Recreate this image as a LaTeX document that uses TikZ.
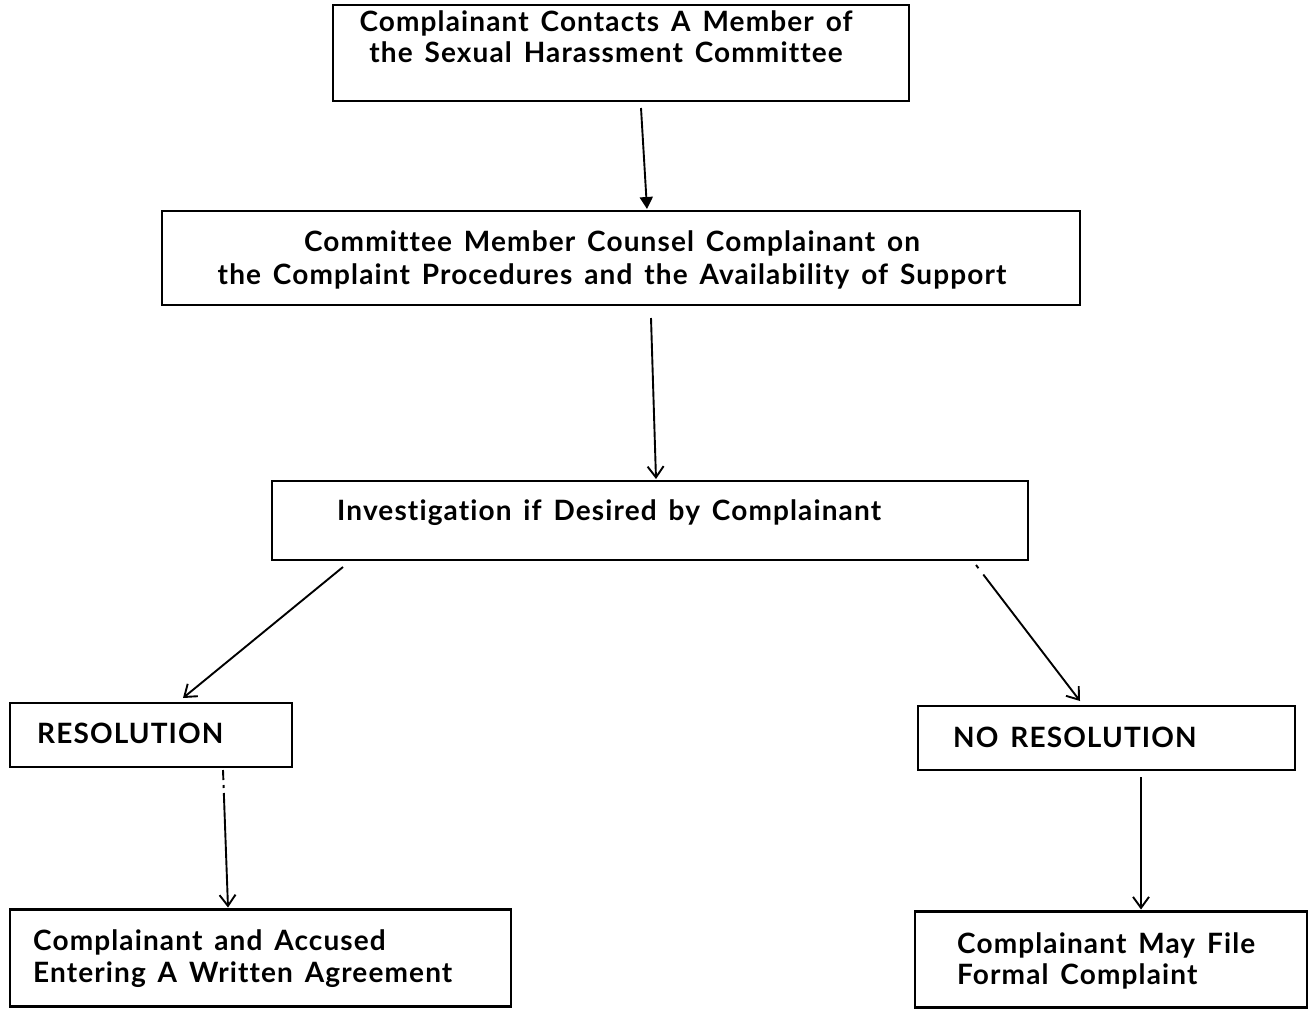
\documentclass[tikz,border=0pt]{standalone}
\usepackage{fontspec}
\setmainfont{Lato}[LetterSpace=4, WordSpace=1.5, Ligatures={NoCommon,NoRare}]
\usetikzlibrary{arrows.meta,calc}
\begin{document}
\begin{tikzpicture}[x=1pt,y=-1pt,
  box/.style={draw, line width=2.2pt, inner sep=0pt, outer sep=0pt, rectangle},
  txt/.style={inner sep=0pt, font=\fontsize{28}{31}\selectfont\bfseries},
  arr/.style={line width=1.9pt, -{Straight Barb[length=11pt,width=16pt,line width=1.9pt]}},
  arrf/.style={line width=1.9pt, -{Triangle[length=12pt,width=13pt]}}]
\useasboundingbox (0,0) rectangle (1311,1010);
\fill[white] (0,0) rectangle (1311,1010);
% boxes
\node[box, minimum width=576pt, minimum height=96pt] (b1) at (621,53) {};
\node[box, minimum width=918pt, minimum height=94pt] (b2) at (621,258) {};
\node[box, minimum width=756pt, minimum height=79pt] (b3) at (650,520.5) {};
\node[box, minimum width=282pt, minimum height=64pt] (b4) at (151,735) {};
\node[box, minimum width=377pt, minimum height=64pt] (b5) at (1106.5,738) {};
\node[box, minimum width=501pt, minimum height=97pt] (b6) at (260.5,958) {};
\node[box, minimum width=392pt, minimum height=96pt] (b7) at (1111,959.5) {};
% texts
\node[txt, align=center] (t1) at (606,37) {Complainant Contacts A Member of\\the Sexual Harassment Committee};
\node[txt, align=center, font=\fontsize{28}{33}\selectfont\bfseries] (t2) at (612,259.5) {Committee Member Counsel Complainant on\\the Complaint Procedures and the Availability of Support};
\node[txt, anchor=west] (t3) at (337,513) {Investigation if Desired by Complainant};
\node[txt, anchor=west] (t4) at (37,733) {RESOLUTION};
\node[txt, anchor=west] (t5) at (953,737) {NO RESOLUTION};
\node[txt, anchor=west, align=left, font=\fontsize{28}{32}\selectfont\bfseries] (t6) at (33,959) {Complainant and Accused\\Entering A Written Agreement};
\node[txt, anchor=west, align=left, font=\fontsize{28}{31}\selectfont\bfseries] (t7) at (957,960.5) {Complainant May File\\Formal Complaint};
% connectors
\draw[arrf] ($(b1.south)+(20,7)$) -- ($(b2.north)+(26,-2)$);
\draw[arr] ($(b2.south)+(30,13)$) -- ($(b3.north)+(6,-2)$);
\draw[arr] ($(b3.south west)+(71,7)$) -- ($(b4.north)+(32,-5)$);
\draw[arr, dash pattern=on 4pt off 8pt on 300pt off 0pt] ($(b3.south east)+(-52,5)$) -- ($(b5.north)+(-26.5,-5)$);
\draw[arr, dash pattern=on 10pt off 5pt on 3pt off 5pt on 300pt off 0pt] ($(b4.south)+(72,3)$) -- ($(b6.north)+(-32.5,-2)$);
\draw[arr] ($(b5.south)+(34.5,7)$) -- ($(b7.north)+(30,-2)$);
\end{tikzpicture}
\end{document}
